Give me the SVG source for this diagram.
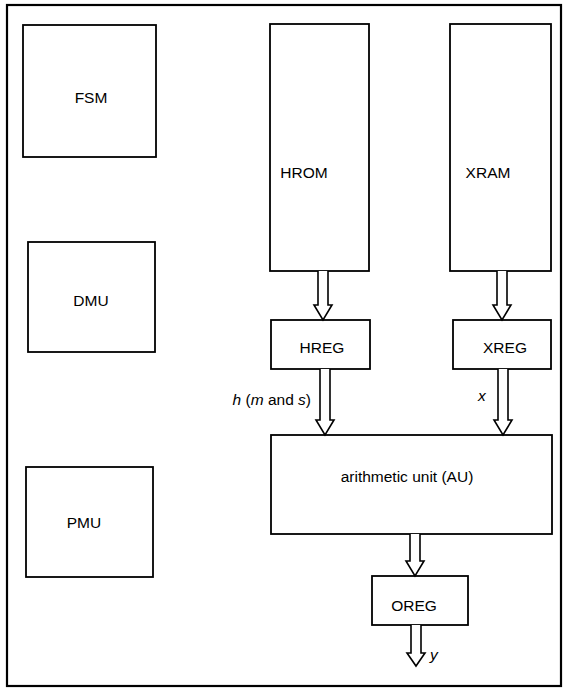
<svg xmlns="http://www.w3.org/2000/svg" width="564" height="690" viewBox="0 0 564 690">
<style>
.box{fill:#fff;stroke:#000;stroke-width:1.8}
.frame{fill:none;stroke:#000;stroke-width:2.2}
.t{font-family:"Liberation Sans",Arial,sans-serif;font-size:15.5px;fill:#000;text-anchor:middle}
.l{font-family:"Liberation Sans",Arial,sans-serif;font-size:15.5px;fill:#000}
.arr{fill:#fff;stroke:#000;stroke-width:1.6;stroke-linejoin:miter}
</style>
<rect class="frame" x="7" y="5" width="554" height="681"/>
<g id="FSM"><rect class="box" x="23" y="25" width="133" height="132"/><text class="t" x="91" y="103">FSM</text></g>
<g id="DMU"><rect class="box" x="28" y="242" width="127" height="110"/><text class="t" x="91" y="306">DMU</text></g>
<g id="PMU"><rect class="box" x="26" y="467" width="127" height="110"/><text class="t" x="84" y="528">PMU</text></g>
<g id="HROM"><rect class="box" x="270" y="24" width="99" height="247"/><text class="t" x="304" y="178">HROM</text></g>
<g id="XRAM"><rect class="box" x="450" y="24" width="101" height="247"/><text class="t" x="488" y="178">XRAM</text></g>
<g id="HREG"><rect class="box" x="271" y="320" width="99" height="49"/><text class="t" x="322" y="353">HREG</text></g>
<g id="XREG"><rect class="box" x="453" y="320" width="98" height="49"/><text class="t" x="505" y="353">XREG</text></g>
<g id="AU"><rect class="box" x="271" y="435" width="281" height="99"/><text class="t" x="407" y="482">arithmetic  unit (AU)</text></g>
<g id="OREG"><rect class="box" x="372" y="576" width="96" height="49"/><text class="t" x="414" y="611">OREG</text></g>
<g id="connectors">
<path class="arr" d="M318,271 V305 H314 L323,320 L332,305 H328 V271"/>
<path class="arr" d="M497,271 V305 H493 L502,320 L511,305 H507 V271"/>
<path class="arr" d="M320,369 V420 H316 L325,435 L334,420 H330 V369"/>
<path class="arr" d="M498,369 V420 H494 L503,435 L512,420 H508 V369"/>
<path class="arr" d="M410,534 V561 H406 L415,576 L424,561 H420 V534"/>
<path class="arr" d="M411,625 V653 H407 L416,666 L425,653 H421 V625"/>
<text class="l" x="311" y="405" text-anchor="end"><tspan font-style="italic">h</tspan> (<tspan font-style="italic">m</tspan> and <tspan font-style="italic">s</tspan>)</text>
<text class="l" x="478" y="401" font-style="italic">x</text>
<text class="l" x="430" y="660" font-style="italic">y</text>
</g>
</svg>
